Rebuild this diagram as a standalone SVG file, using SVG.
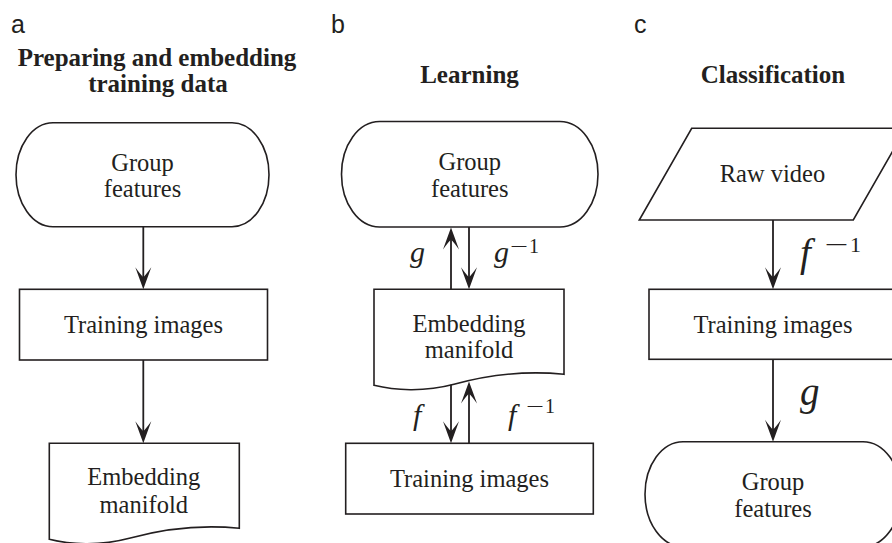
<svg xmlns="http://www.w3.org/2000/svg" width="892" height="543" viewBox="0 0 892 543">
<style>
.shape{fill:#fff;stroke:#231f20;stroke-width:1.6}
.conn{stroke:#231f20;stroke-width:1.8;fill:none}
.t{font-family:"Liberation Serif","Times New Roman",serif;font-size:24.5px;fill:#231f20;text-anchor:middle}
.title{font-family:"Liberation Serif","Times New Roman",serif;font-size:25px;font-weight:bold;fill:#231f20;text-anchor:middle}
.pl{font-family:"Liberation Sans",Arial,sans-serif;font-size:25px;fill:#231f20}
.m{font-family:"Liberation Serif","Times New Roman",serif;font-style:italic;font-size:30px;fill:#231f20}
.mb{font-family:"Liberation Serif","Times New Roman",serif;font-style:italic;font-size:39px;fill:#231f20}
.sup{font-family:"Liberation Serif","Times New Roman",serif;font-size:20px;fill:#231f20}
.supb{font-family:"Liberation Serif","Times New Roman",serif;font-size:22px;fill:#231f20}
</style>
<defs>
<marker id="ah" viewBox="-23 -9 24 18" refX="-10" refY="0" markerWidth="24" markerHeight="18" markerUnits="userSpaceOnUse" orient="auto">
<path d="M0,0 L-22,-8 Q-15,-3 -12,0 Q-15,3 -22,8 Z" fill="#231f20"/>
</marker>
<path id="doc" d="M0,0 H190 V85 C160,82 120,84 80,95 C50,103 20,101 0,96 Z"/>
</defs>

<text class="pl" x="11" y="33">a</text>
<text class="pl" x="331" y="33">b</text>
<text class="pl" x="634" y="33">c</text>

<text class="title" x="157" y="66">Preparing and embedding</text>
<text class="title" x="158" y="92">training data</text>
<text class="title" x="469.5" y="83">Learning</text>
<text class="title" x="773" y="83">Classification</text>

<g id="a-group">
<rect class="shape" x="16" y="122.7" width="253" height="104" rx="37" ry="52"/>
<text class="t" x="142.5" y="170.5">Group</text>
<text class="t" x="142.5" y="197">features</text>
</g>
<g id="a-training">
<rect class="shape" x="19.5" y="289.3" width="248" height="70.7"/>
<text class="t" x="143.5" y="333">Training images</text>
</g>
<g id="a-manifold">
<use href="#doc" x="49.3" y="443.3" class="shape"/>
<text class="t" x="143.8" y="485">Embedding</text>
<text class="t" x="143.8" y="513">manifold</text>
</g>

<g id="b-group">
<rect class="shape" x="341.5" y="121.5" width="256.5" height="105.5" rx="38" ry="52.75"/>
<text class="t" x="469.75" y="170">Group</text>
<text class="t" x="469.75" y="196.5">features</text>
</g>
<g id="b-manifold">
<use href="#doc" x="374" y="289.3" class="shape"/>
<text class="t" x="469" y="331.7">Embedding</text>
<text class="t" x="469" y="358.3">manifold</text>
</g>
<g id="b-training">
<rect class="shape" x="345.7" y="443.3" width="247.6" height="70.7"/>
<text class="t" x="469.5" y="486.7">Training images</text>
</g>

<g id="c-video">
<polygon class="shape" points="691.7,128.3 905.7,128.3 853.3,220 639.3,220"/>
<text class="t" x="772.5" y="182">Raw video</text>
</g>
<g id="c-training">
<rect class="shape" x="649" y="289.3" width="248" height="70"/>
<text class="t" x="773" y="333.3">Training images</text>
</g>
<g id="c-group">
<rect class="shape" x="645" y="441.7" width="256" height="105" rx="38" ry="52.5"/>
<text class="t" x="773" y="490">Group</text>
<text class="t" x="773" y="516.7">features</text>
</g>

<g id="connectors">
<line class="conn" x1="143.3" y1="226.7" x2="143.3" y2="279.3" marker-end="url(#ah)"/>
<line class="conn" x1="143.3" y1="360" x2="143.3" y2="433.3" marker-end="url(#ah)"/>

<line class="conn" x1="451" y1="289.3" x2="451" y2="237.5" marker-end="url(#ah)"/>
<line class="conn" x1="469" y1="227" x2="469" y2="279.3" marker-end="url(#ah)"/>
<line class="conn" x1="451" y1="384.8" x2="451" y2="433.3" marker-end="url(#ah)"/>
<line class="conn" x1="469" y1="443.3" x2="469" y2="391.5" marker-end="url(#ah)"/>

<line class="conn" x1="773" y1="220" x2="773" y2="279.3" marker-end="url(#ah)"/>
<line class="conn" x1="773" y1="359.3" x2="773" y2="431.7" marker-end="url(#ah)"/>

<text class="m" x="410" y="262">g</text>
<text class="m" x="494" y="262">g</text>
<text class="sup" x="510" y="253" textLength="18" lengthAdjust="spacingAndGlyphs">−</text>
<text class="sup" x="529" y="253">1</text>
<text class="m" x="413" y="425">f</text>
<text class="m" x="508" y="425">f</text>
<text class="sup" x="526" y="413" textLength="18" lengthAdjust="spacingAndGlyphs">−</text>
<text class="sup" x="545" y="413">1</text>

<text class="mb" x="800" y="266">f</text>
<text class="supb" x="824.5" y="252" textLength="24" lengthAdjust="spacingAndGlyphs">−</text>
<text class="supb" x="850" y="252">1</text>
<text class="mb" x="800" y="405">g</text>
</g>
</svg>
